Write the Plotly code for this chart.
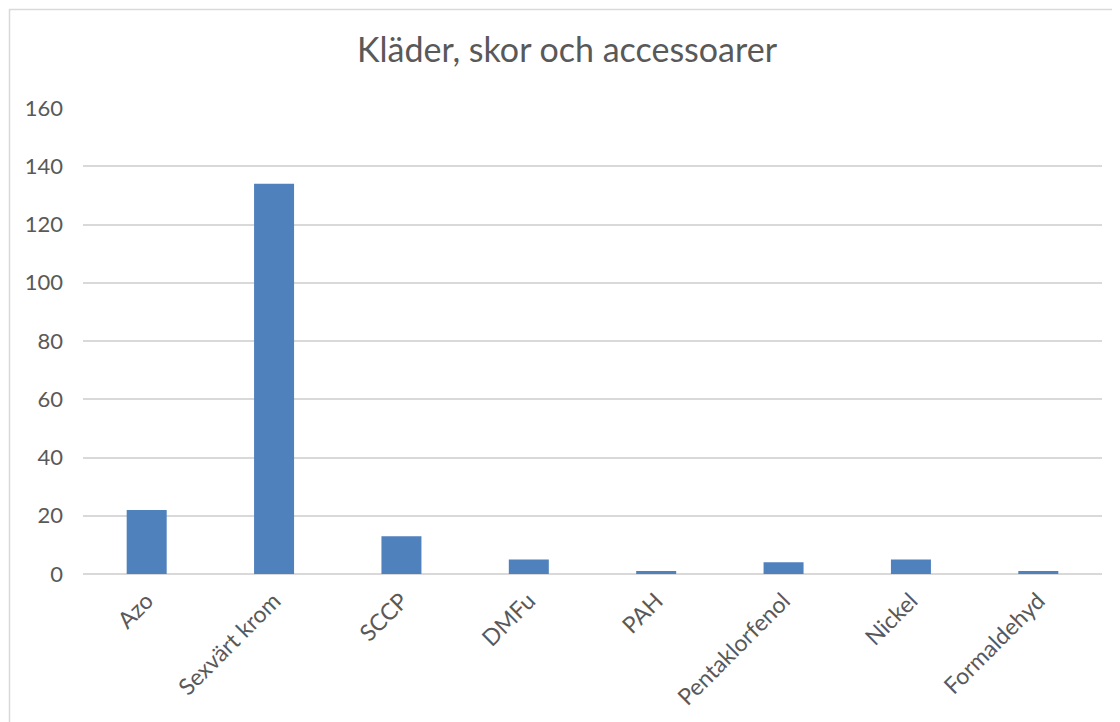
import plotly.graph_objects as go

categories = ["Azo", "Sexvärt krom", "SCCP", "DMFu", "PAH", "Pentaklorfenol", "Nickel", "Formaldehyd"]
values = [22, 134, 13, 5, 1, 4, 5, 1]
y_ticks = [0, 20, 40, 60, 80, 100, 120, 140, 160]

FONT = "Lato"
GREY = "#595959"

# the page body adds an 8px margin, so the figure is drawn 8px smaller/shifted
OFF = 8
W, H = 1120 - OFF, 722 - OFF

fig = go.Figure(go.Bar(x=categories, y=values, marker=dict(color="#4F81BD", line_width=0)))

# plot area on screen: x 83..1102, y 108..574
L, R, T, B = 83 - OFF, 18, 108 - OFF, 148
pw, ph = W - L - R, H - T - B

fig.update_layout(
    width=W, height=H,
    margin=dict(l=L, r=R, t=T, b=B),
    paper_bgcolor="white", plot_bgcolor="white",
    bargap=0.686,
    showlegend=False,
    title=dict(text="Kläder, skor och accessoarer", x=(567 - OFF) / W, xanchor="center",
               y=1 - (50 - OFF) / H, yanchor="middle",
               font=dict(family=FONT, size=34, color=GREY)),
    font=dict(family=FONT, size=20, color=GREY),
    shapes=[dict(type="rect", xref="paper", yref="paper",
                 x0=(9.5 - 83) / pw, x1=(1130 - 83) / pw,
                 y0=(574 - 735) / ph, y1=(574 - 9.5) / ph,
                 line=dict(color="#D9D9D9", width=1.5), layer="below")],
)
fig.update_xaxes(tickangle=-45, showgrid=False, showline=False, ticks="",
                 ticklabelstandoff=8, tickfont=dict(size=23, color=GREY))
fig.update_yaxes(range=[0, 160], tickvals=y_ticks, showgrid=True, gridcolor="#D9D9D9",
                 gridwidth=1.5, zeroline=True, zerolinecolor="#D9D9D9", zerolinewidth=1.5,
                 showline=False, ticks="", ticklabelstandoff=19,
                 tickfont=dict(size=22, color=GREY))

fig.write_html("out.html")
